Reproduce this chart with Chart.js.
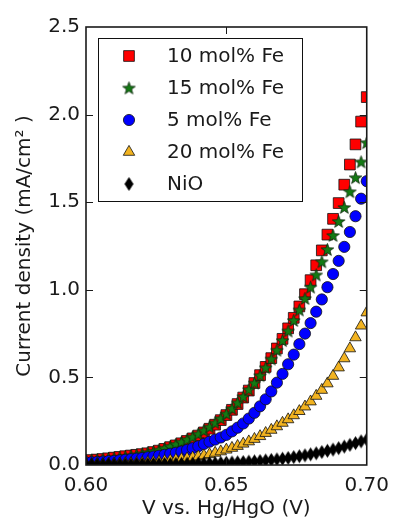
<!DOCTYPE html>
<html>
<head>
<meta charset="utf-8">
<script src="https://cdn.jsdelivr.net/npm/chart.js@4.4.1/dist/chart.umd.min.js"></script>
<style>
  html, body { margin: 0; padding: 0; background: #fff; }
</style>
</head>
<body>
<canvas id="polarization" width="398" height="523"></canvas>
<script>
// potential (V vs. Hg/HgO)
var voltage = [0.600, 0.602, 0.604, 0.606, 0.608, 0.610, 0.612, 0.614, 0.616, 0.618,
               0.620, 0.622, 0.624, 0.626, 0.628, 0.630, 0.632, 0.634, 0.636, 0.638,
               0.640, 0.642, 0.644, 0.646, 0.648, 0.650, 0.652, 0.654, 0.656, 0.658,
               0.660, 0.662, 0.664, 0.666, 0.668, 0.670, 0.672, 0.674, 0.676, 0.678,
               0.680, 0.682, 0.684, 0.686, 0.688, 0.690, 0.692, 0.694, 0.696, 0.698, 0.700];

// current density (mA/cm2)
var fe10 = [0.025, 0.028, 0.031, 0.034, 0.038, 0.042, 0.046, 0.050, 0.054, 0.058,
            0.062, 0.067, 0.074, 0.082, 0.092, 0.102, 0.112, 0.124, 0.137, 0.152,
            0.168, 0.186, 0.207, 0.230, 0.256, 0.285, 0.315, 0.348, 0.385, 0.425,
            0.468, 0.513, 0.560, 0.610, 0.665, 0.720, 0.780, 0.840, 0.905, 0.975,
            1.055, 1.140, 1.225, 1.315, 1.405, 1.495, 1.600, 1.715, 1.830, 1.960, 2.100];
var fe15 = [0.026, 0.028, 0.031, 0.034, 0.037, 0.040, 0.044, 0.048, 0.053, 0.058,
            0.064, 0.070, 0.077, 0.085, 0.095, 0.106, 0.118, 0.131, 0.145, 0.160,
            0.177, 0.196, 0.217, 0.240, 0.265, 0.292, 0.322, 0.355, 0.390, 0.430,
            0.468, 0.510, 0.555, 0.605, 0.655, 0.710, 0.765, 0.825, 0.885, 0.950,
            1.015, 1.085, 1.160, 1.230, 1.310, 1.390, 1.470, 1.560, 1.640, 1.730, 1.840];
var fe5 = [0.015, 0.016, 0.018, 0.020, 0.022, 0.024, 0.027, 0.030, 0.033, 0.036,
           0.040, 0.044, 0.048, 0.053, 0.058, 0.064, 0.070, 0.077, 0.086, 0.096,
           0.107, 0.120, 0.133, 0.145, 0.157, 0.172, 0.192, 0.213, 0.237, 0.265,
           0.298, 0.335, 0.375, 0.420, 0.470, 0.520, 0.575, 0.630, 0.690, 0.750,
           0.810, 0.875, 0.945, 1.015, 1.090, 1.165, 1.245, 1.330, 1.420, 1.520, 1.620];
var fe20 = [0.004, 0.004, 0.005, 0.005, 0.006, 0.007, 0.008, 0.009, 0.010, 0.011,
            0.013, 0.015, 0.017, 0.019, 0.022, 0.025, 0.029, 0.033, 0.037, 0.042,
            0.048, 0.054, 0.061, 0.069, 0.077, 0.087, 0.097, 0.108, 0.121, 0.134,
            0.148, 0.164, 0.182, 0.200, 0.220, 0.240, 0.260, 0.283, 0.307, 0.333,
            0.362, 0.394, 0.428, 0.465, 0.508, 0.556, 0.608, 0.665, 0.728, 0.795, 0.870];
var nio = [0.003, 0.003, 0.003, 0.003, 0.004, 0.004, 0.004, 0.004, 0.004, 0.005,
           0.005, 0.005, 0.005, 0.006, 0.006, 0.006, 0.007, 0.007, 0.008, 0.008,
           0.009, 0.009, 0.010, 0.011, 0.012, 0.013, 0.014, 0.015, 0.017, 0.019,
           0.021, 0.023, 0.026, 0.029, 0.032, 0.036, 0.040, 0.045, 0.050, 0.055,
           0.061, 0.067, 0.074, 0.081, 0.088, 0.096, 0.105, 0.115, 0.125, 0.135, 0.145];

var seriesNames = ['10 mol% Fe', '15 mol% Fe', '5 mol% Fe', '20 mol% Fe', 'NiO'];
var xTicks = [0.60, 0.65, 0.70];
var yTicks = [0.0, 0.5, 1.0, 1.5, 2.0, 2.5];

var FONT = '"DejaVu Sans", "Liberation Sans", sans-serif';

function points(ys) {
  return voltage.map(function (v, i) { return {x: v, y: ys[i]}; });
}

// filled five point star like matplotlib '*'
function starMarker(color) {
  var c = document.createElement('canvas');
  c.width = 15; c.height = 15;
  var g = c.getContext('2d');
  g.beginPath();
  for (var k = 0; k < 10; k++) {
    var r = k % 2 ? 2.7 : 6.6;
    var a = -Math.PI / 2 + k * Math.PI / 5;
    g.lineTo(7.5 + r * Math.cos(a), 8 + r * Math.sin(a));
  }
  g.closePath();
  g.fillStyle = color;
  g.fill();
  g.lineWidth = 0.8;
  g.strokeStyle = '#0b240b';
  g.stroke();
  return c;
}

// thin diamond like matplotlib 'd'
function diamondMarker() {
  var c = document.createElement('canvas');
  c.width = 11; c.height = 16;
  var g = c.getContext('2d');
  g.beginPath();
  g.moveTo(5.5, 1); g.lineTo(10, 8); g.lineTo(5.5, 15); g.lineTo(1, 8);
  g.closePath();
  g.fillStyle = '#000';
  g.fill();
  return c;
}

var star = starMarker('#137a13');
var diamond = diamondMarker();

function series(label, ys, style, radius, fill, order) {
  return {
    label: label,
    data: points(ys),
    pointStyle: style,
    pointRadius: radius,
    backgroundColor: fill,
    borderColor: '#111',
    borderWidth: 0.8,
    showLine: false,
    order: order
  };
}

// frame with inward ticks on all four sides
var frame = {
  id: 'frame',
  afterDatasetsDraw: function (chart) {
    var ctx = chart.ctx, a = chart.chartArea;
    var xs = chart.scales.x, ys = chart.scales.y;
    ctx.save();
    ctx.strokeStyle = '#1a1a1a';
    ctx.lineWidth = 1;
    ctx.beginPath();
    yTicks.slice(1, -1).forEach(function (t) {
      var py = Math.round(ys.getPixelForValue(t)) + 0.5;
      ctx.moveTo(a.left, py); ctx.lineTo(a.left + 7, py);
      ctx.moveTo(a.right, py); ctx.lineTo(a.right - 7, py);
    });
    xTicks.slice(1, -1).forEach(function (t) {
      var px = Math.round(xs.getPixelForValue(t)) + 0.5;
      ctx.moveTo(px, a.bottom); ctx.lineTo(px, a.bottom - 7);
      ctx.moveTo(px, a.top); ctx.lineTo(px, a.top + 7);
    });
    ctx.stroke();
    ctx.lineWidth = 1.6;
    ctx.strokeRect(a.left, a.top, a.right - a.left, a.bottom - a.top);
    ctx.restore();
  }
};

// legend box inside the axes, upper left
var legendBox = {
  id: 'legendBox',
  afterDraw: function (chart) {
    var ctx = chart.ctx;
    var x0 = 98.5, y0 = 38.5, w = 204, h = 163;
    ctx.save();
    ctx.fillStyle = '#fff';
    ctx.fillRect(x0, y0, w, h);
    ctx.strokeStyle = '#111';
    ctx.lineWidth = 1;
    ctx.strokeRect(x0, y0, w, h);
    chart.data.datasets.forEach(function (ds, i) {
      var cy = 56 + i * 32;
      ctx.fillStyle = ds.backgroundColor;
      ctx.strokeStyle = ds.borderColor;
      ctx.lineWidth = ds.borderWidth;
      Chart.helpers.drawPoint(ctx, {pointStyle: ds.pointStyle, radius: ds.pointRadius, borderWidth: ds.borderWidth, rotation: 0}, 129, cy);
      ctx.fillStyle = '#1a1a1a';
      ctx.font = '20px ' + FONT;
      ctx.textBaseline = 'middle';
      ctx.textAlign = 'left';
      ctx.fillText(seriesNames[i], 167, cy + 1);
    });
    ctx.restore();
  }
};

var ctxP = document.getElementById('polarization').getContext('2d');
var polChart = new Chart(ctxP, {
  type: 'scatter',
  data: {
    datasets: [
      series(seriesNames[0], fe10, 'rect', 7.6, '#ff0000', 5),
      series(seriesNames[1], fe15, star, 6, '#137a13', 4),
      series(seriesNames[2], fe5, 'circle', 5.6, '#0000ff', 3),
      series(seriesNames[3], fe20, 'triangle', 6.6, '#f2b320', 2),
      series(seriesNames[4], nio, diamond, 6, '#000000', 1)
    ]
  },
  options: {
    responsive: false,
    animation: false,
    events: [],
    layout: { padding: { top: 27, right: 25, left: 0, bottom: 0 } },
    plugins: {
      legend: { display: false },
      tooltip: { enabled: false }
    },
    scales: {
      x: {
        type: 'linear',
        min: 0.60,
        max: 0.70,
        afterBuildTicks: function (s) { s.ticks = xTicks.map(function (v) { return {value: v}; }); },
        afterFit: function (s) { s.height = 58; },
        grid: { display: false, drawTicks: false },
        border: { display: false },
        ticks: {
          color: '#1a1a1a',
          font: { family: FONT, size: 20 },
          padding: 9,
          maxRotation: 0,
          callback: function (v) { return v.toFixed(2); }
        },
        title: {
          display: true,
          text: 'V vs. Hg/HgO (V)',
          color: '#1a1a1a',
          font: { family: FONT, size: 20 },
          padding: { top: 0, bottom: 2 }
        }
      },
      y: {
        type: 'linear',
        min: 0,
        max: 2.5,
        afterBuildTicks: function (s) { s.ticks = yTicks.map(function (v) { return {value: v}; }); },
        afterFit: function (s) { s.width = 86; },
        grid: { display: false, drawTicks: false },
        border: { display: false },
        ticks: {
          color: '#1a1a1a',
          font: { family: FONT, size: 20 },
          padding: 6,
          callback: function (v) { return v.toFixed(1); }
        },
        title: {
          display: true,
          text: 'Current density (mA/cm² )',
          color: '#1a1a1a',
          font: { family: FONT, size: 20 },
          padding: { top: 13, bottom: 0 }
        }
      }
    }
  },
  plugins: [frame, legendBox]
});
</script>
</body>
</html>
